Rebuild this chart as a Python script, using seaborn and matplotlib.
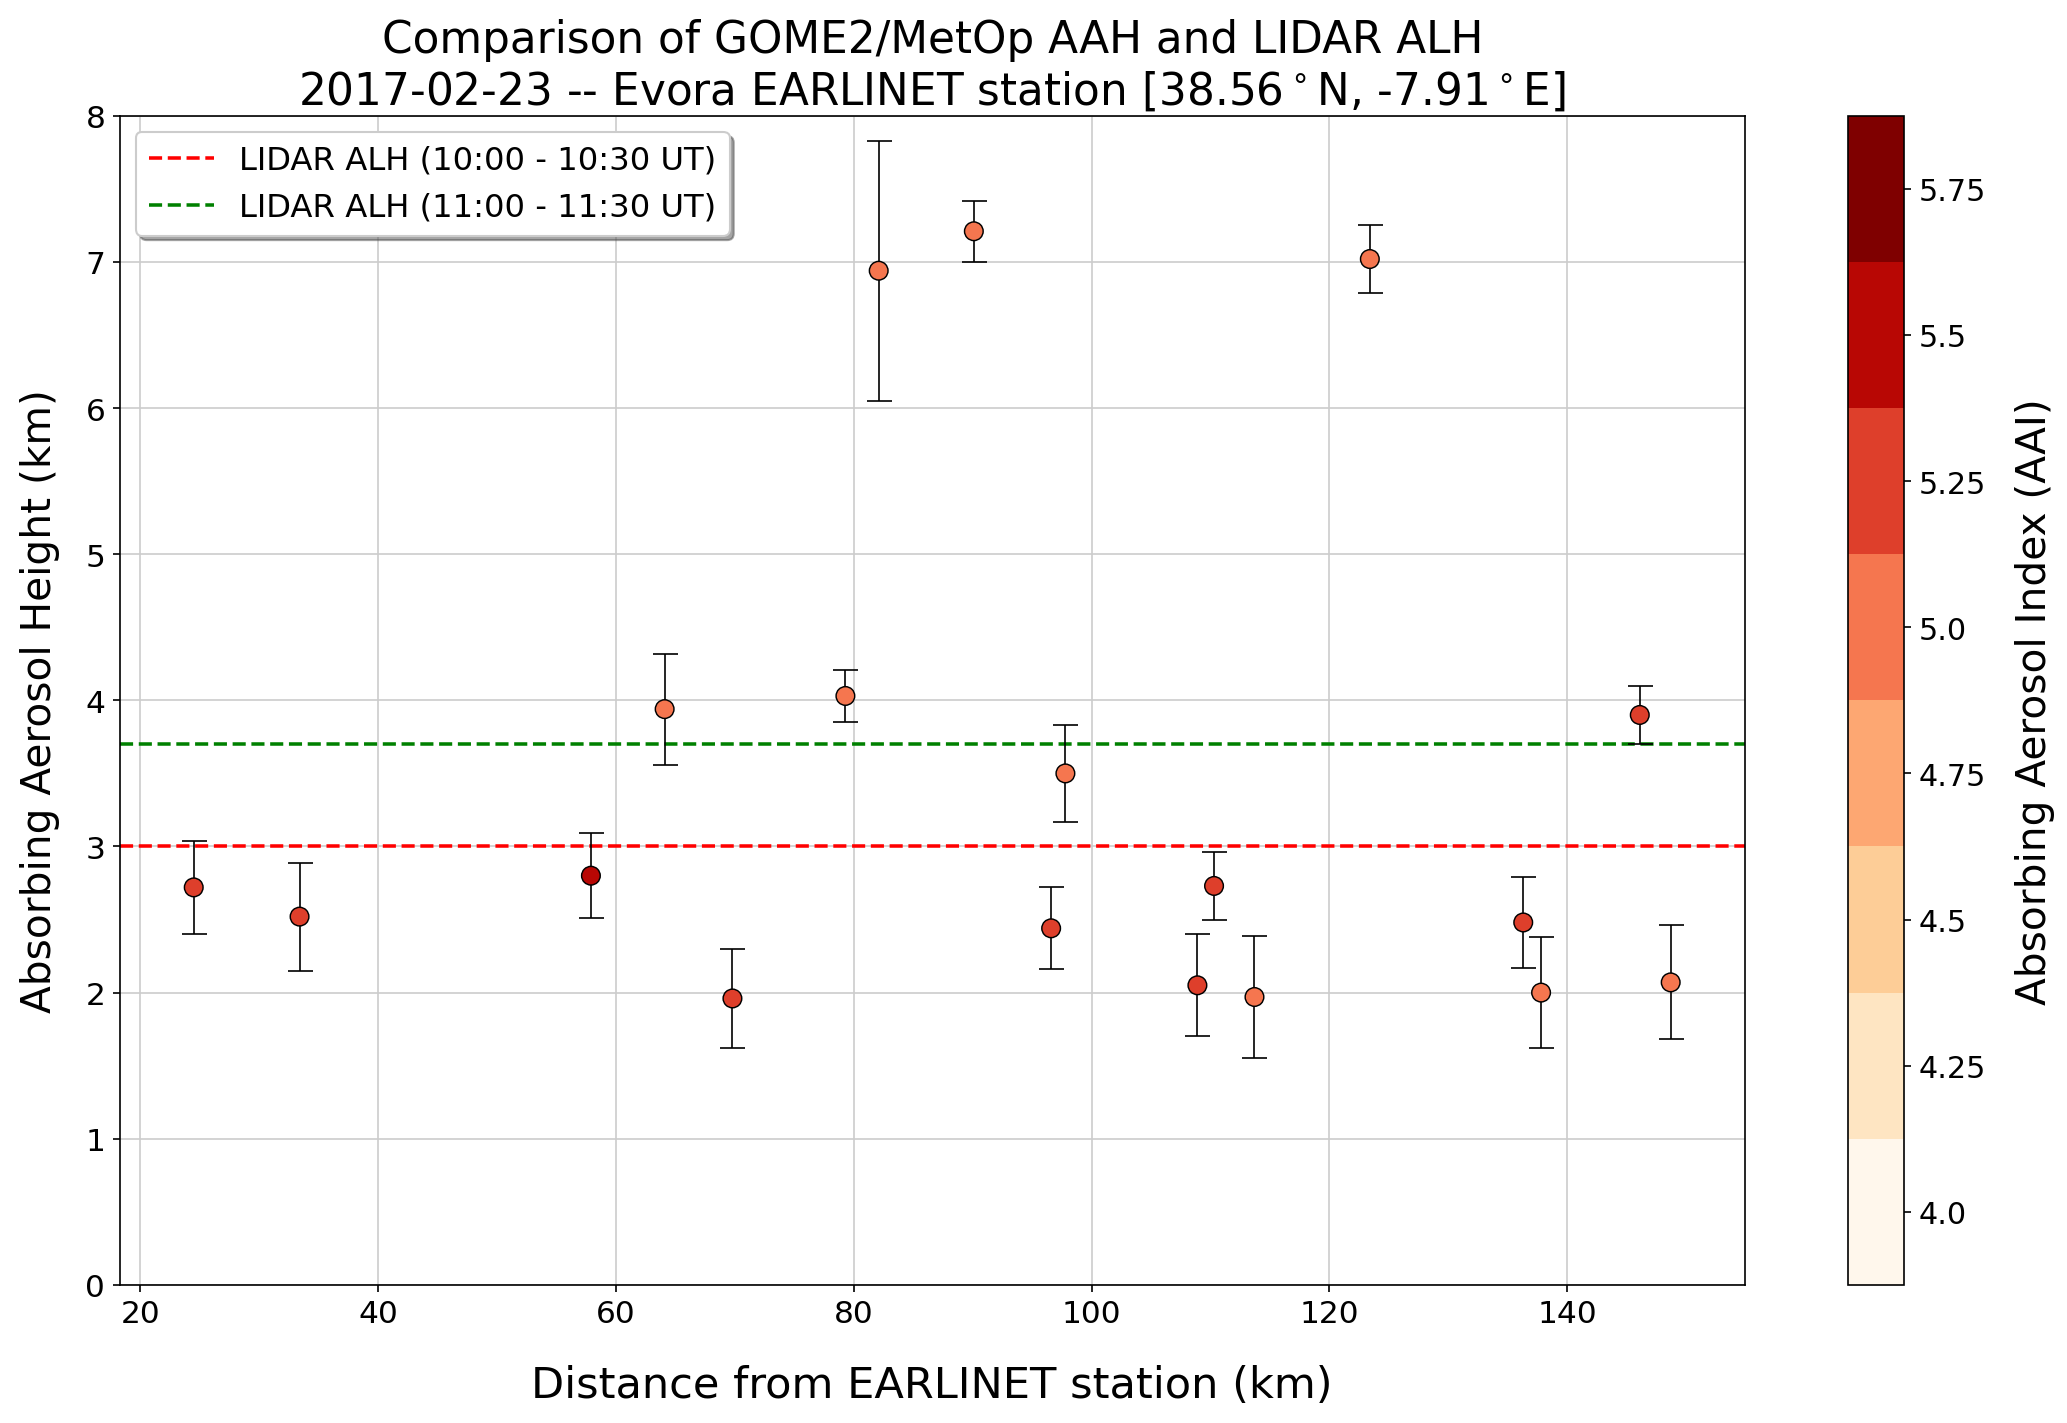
import numpy as np
import pandas as pd
import seaborn as sns
import matplotlib.pyplot as plt
from matplotlib.colors import Normalize
import matplotlib.cm as cm

plt.rcParams['font.family'] = 'DejaVu Sans'

# distance from station (km), GOME2 AAH (km), AAH uncertainty (km), AAI
distance = [24.5, 33.4, 57.9, 64.1, 69.8, 79.3, 82.1, 90.1, 96.6,
            97.8, 108.9, 110.3, 113.7, 123.4, 136.3, 137.8, 146.1, 148.7]
aah = [2.72, 2.52, 2.80, 3.94, 1.96, 4.03, 6.94, 7.21, 2.44,
       3.50, 2.05, 2.73, 1.97, 7.02, 2.48, 2.00, 3.90, 2.07]
aah_err = [0.32, 0.37, 0.29, 0.38, 0.34, 0.18, 0.89, 0.21, 0.28,
           0.33, 0.35, 0.23, 0.42, 0.23, 0.31, 0.38, 0.20, 0.39]
aai = [5.22, 5.20, 5.48, 5.02, 5.24, 5.00, 5.05, 5.03, 5.21,
       5.01, 5.23, 5.19, 4.98, 5.04, 5.22, 5.00, 5.20, 5.02]

lidar_alh_1 = 3.0   # 10:00 - 10:30 UT
lidar_alh_2 = 3.7   # 11:00 - 11:30 UT

df = pd.DataFrame({"dist": distance, "aah": aah, "err": aah_err, "aai": aai})

cmap = plt.get_cmap("OrRd", 8)
norm = Normalize(vmin=3.875, vmax=5.875)

fig = plt.figure(figsize=(13.78, 9.493), dpi=150)
ax = fig.add_axes([0.058, 0.097, 0.786, 0.821])
cax = fig.add_axes([0.894, 0.097, 0.027, 0.821])

ax.grid(True, color='#cccccc', linewidth=0.8, zorder=0)
ax.set_axisbelow(True)

ax.errorbar(df["dist"], df["aah"], yerr=df["err"], fmt='none', ecolor='black',
            elinewidth=0.8, capsize=6, capthick=0.8, zorder=2)
sns.scatterplot(data=df, x="dist", y="aah", hue="aai", palette=cmap, hue_norm=norm,
                s=80, edgecolor='black', linewidth=0.7, legend=False, ax=ax, zorder=3)

ax.axhline(lidar_alh_1, color='red', linestyle='--', linewidth=1.7,
           label='LIDAR ALH (10:00 - 10:30 UT)', zorder=1)
ax.axhline(lidar_alh_2, color='green', linestyle='--', linewidth=1.7,
           label='LIDAR ALH (11:00 - 11:30 UT)', zorder=1)

ax.set_ylim(0, 8)
ax.set_xlabel("Distance from EARLINET station (km)", fontsize=20.7, labelpad=17)
ax.set_ylabel("Absorbing Aerosol Height (km)", fontsize=19.5, labelpad=12)
ax.set_title("Comparison of GOME2/MetOp AAH and LIDAR ALH\n"
             r"2017-02-23 -- Evora EARLINET station [38.56$^\circ$N, -7.91$^\circ$E]",
             fontsize=21)
ax.tick_params(labelsize=15)
ax.legend(loc='upper left', fontsize=15.5, shadow=True, fancybox=True)

sm = cm.ScalarMappable(cmap=cmap, norm=norm)
cbar = fig.colorbar(sm, cax=cax)
cbar.set_ticks([4.0, 4.25, 4.5, 4.75, 5.0, 5.25, 5.5, 5.75])
cbar.set_ticklabels(['4.0', '4.25', '4.5', '4.75', '5.0', '5.25', '5.5', '5.75'])
cbar.ax.tick_params(labelsize=14.5)
cbar.set_label("Absorbing Aerosol Index (AAI)", fontsize=19.5, labelpad=14)

fig.savefig("out.png", dpi=150)
